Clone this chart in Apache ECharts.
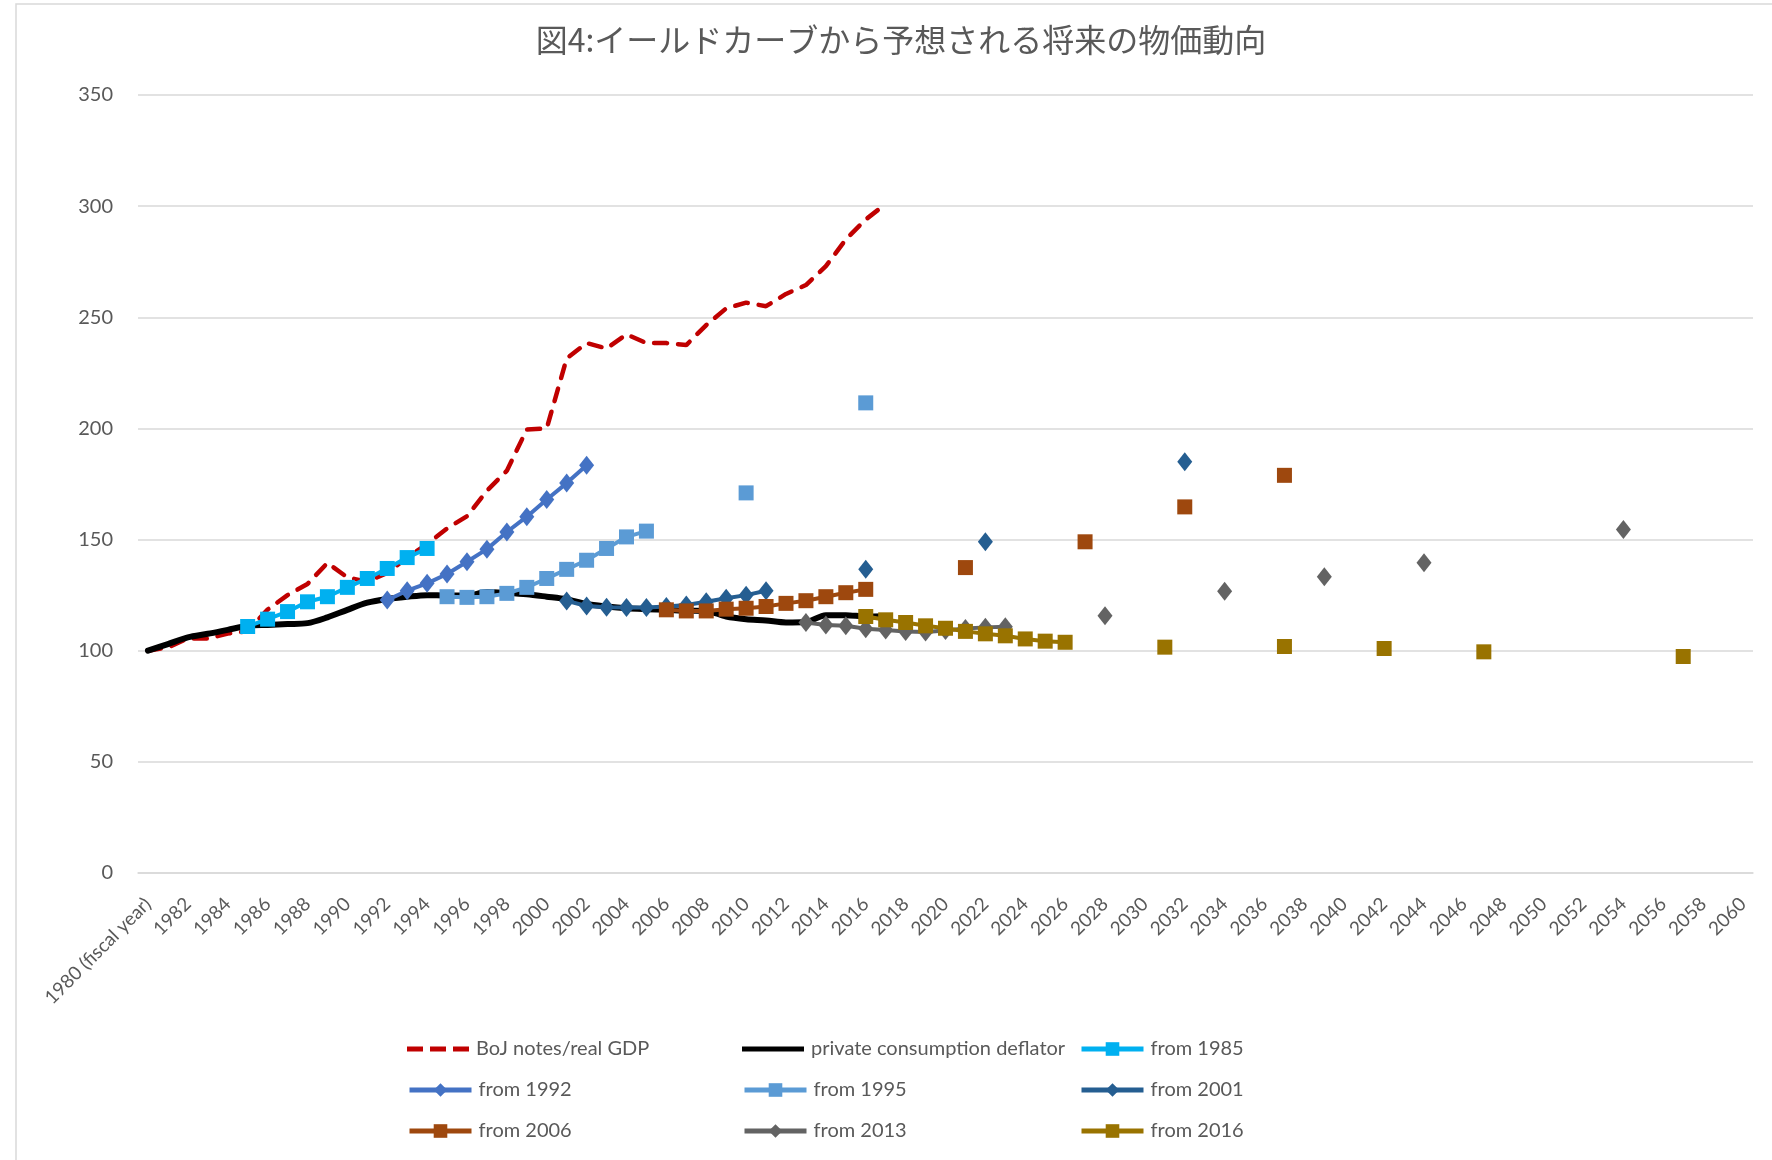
<!DOCTYPE html>
<html>
<head>
<meta charset="utf-8">
<script src="https://cdn.jsdelivr.net/npm/echarts@6/dist/echarts.min.js"></script>
<style>
html,body{margin:0;padding:0;background:#fff;}
#chart{width:1772px;height:1160px;}
</style>
</head>
<body>
<div id="chart"></div>
<script>
// ---- categories / tick labels ----
const firstYear = 1980, lastYear = 2060;
const categories = [];
for (let y = firstYear; y <= lastYear; y++) categories.push(y === firstYear ? '1980 (fiscal year)' : String(y));
const yTicks = [0, 50, 100, 150, 200, 250, 300, 350];

// ---- series values (start year + consecutive values, plus isolated [year, value] points) ----
const bojStart = 1980;
const bojNotesRealGdp = [100, 101.5, 105.5, 105.5, 107.7, 108.8, 118.5, 125, 130, 139.5, 133, 131, 135, 142, 148, 155, 160.5, 172, 181, 199.5, 200, 231.5, 238.4, 236, 242.3, 238.4, 238.4, 237.5, 246.5, 254, 256.6, 255, 260.5, 264.5, 273, 285, 294, 301];
const deflatorStart = 1980;
const privateConsumptionDeflator = [100, 103, 106, 107.6, 109.4, 111.2, 111.6, 112, 112.4, 115, 118.4, 121.6, 123.3, 124.3, 125, 124.8, 124.8, 126.4, 126, 125.4, 124.3, 123.1, 121, 119.9, 119.1, 118.7, 118.4, 118, 117.9, 115.4, 114.2, 113.6, 112.7, 112.9, 116, 116, 115.4, 115.5];
const from1985 = [110.9, 114.2, 117.6, 122, 124.3, 128.5, 132.5, 137, 141.9, 146];
const from1985Extra = [];
const from1992 = [122.8, 127, 130.3, 134.5, 140, 145.7, 153.4, 160.3, 168, 175.4, 183.4];
const from1992Extra = [];
const from1995 = [124.3, 124, 124.3, 125.8, 128.5, 132.5, 136.6, 140.7, 146, 151.2, 153.8];
const from1995Extra = [[2010, 171], [2016, 211.5]];
const from2001 = [122.4, 120.1, 119.6, 119.4, 119.4, 119.9, 120.6, 122, 123.6, 125, 127];
const from2001Extra = [[2016, 136.6], [2022, 149], [2032, 185]];
const from2006 = [118.4, 117.9, 117.9, 118.7, 119.1, 119.9, 121.3, 122.5, 124.3, 126.1, 127.6];
const from2006Extra = [[2021, 137.4], [2027, 149], [2032, 164.7], [2037, 178.9]];
const from2013 = [112.7, 111.6, 111.2, 109.9, 109.3, 108.6, 108.4, 109.1, 110, 110.5, 110.8];
const from2013Extra = [[2028, 115.7], [2034, 126.7], [2039, 133.3], [2044, 139.6], [2054, 154.5]];
const from2016 = [115.4, 113.9, 112.7, 111.2, 110.1, 108.7, 107.6, 106.7, 105.3, 104.3, 103.8];
const from2016Extra = [[2031, 101.6], [2037, 101.9], [2042, 101], [2047, 99.5], [2057, 97.4]];

function place(start, values, extra) {
  const arr = categories.map(() => null);
  values.forEach((v, i) => { arr[start - firstYear + i] = v; });
  (extra || []).forEach(([yr, v]) => { arr[yr - firstYear] = v; });
  return arr;
}

const FONT = 'Lato, "Liberation Sans", sans-serif';
const TXT = '#595959';

function markerSeries(name, color, start, values, extra, symbol) {
  return {
    name, type: 'line',
    data: place(start, values, extra),
    connectNulls: false,
    showSymbol: true, showAllSymbol: true,
    symbol: symbol,
    symbolSize: symbol === 'diamond' ? [15, 19] : 15,
    lineStyle: { color, width: 4 },
    itemStyle: { color, borderWidth: 0 },
    emphasis: { disabled: true },
    animation: false
  };
}

const series = [
  {
    name: 'BoJ notes/real GDP', type: 'line',
    data: place(bojStart, bojNotesRealGdp),
    symbol: 'none',
    lineStyle: { color: '#C00000', width: 4.5, type: [13, 11], cap: 'round' },
    itemStyle: { color: '#C00000' },
    animation: false
  },
  {
    name: 'private consumption deflator', type: 'line',
    data: place(deflatorStart, privateConsumptionDeflator),
    symbol: 'none', smooth: 0.3,
    lineStyle: { color: '#000000', width: 6, cap: 'round' },
    itemStyle: { color: '#000000' },
    animation: false
  },
  markerSeries('from 1985', '#00B0F0', 1985, from1985, from1985Extra, 'rect'),
  markerSeries('from 1992', '#4472C4', 1992, from1992, from1992Extra, 'diamond'),
  markerSeries('from 1995', '#5B9BD5', 1995, from1995, from1995Extra, 'rect'),
  markerSeries('from 2001', '#255E91', 2001, from2001, from2001Extra, 'diamond'),
  markerSeries('from 2006', '#9E480E', 2006, from2006, from2006Extra, 'rect'),
  markerSeries('from 2013', '#636363', 2013, from2013, from2013Extra, 'diamond'),
  markerSeries('from 2016', '#997300', 2016, from2016, from2016Extra, 'rect')
];

// legend grid: 3 columns x 3 rows
const legendLayout = [
  ['BoJ notes/real GDP', 'private consumption deflator', 'from 1985'],
  ['from 1992', 'from 1995', 'from 2001'],
  ['from 2006', 'from 2013', 'from 2016']
];
const legendColX = [407, 742, 1079];
const legendRowY = [1051, 1092, 1133];

const legends = [];
legendLayout.forEach((row, r) => row.forEach((name, c) => {
  let item = { name };
  if (name === 'BoJ notes/real GDP') item.icon = 'path://M0,0h16v5h-16z M23,0h16v5h-16z M46,0h16v5h-16z';
  if (name === 'private consumption deflator') item.icon = 'path://M0,0h62v5h-62z';
  legends.push({
    orient: 'horizontal', left: legendColX[c], top: legendRowY[r] - 12,
    padding: 0,
    itemWidth: 62, itemHeight: 17, itemGap: 0,
    symbolKeepAspect: true,
    lineStyle: { width: 5 },
    textStyle: { fontFamily: FONT, fontSize: 20, color: TXT, padding: [0, 0, 0, 2] },
    selectedMode: false,
    data: [item]
  });
}));

const chart = echarts.init(document.getElementById('chart'), null, { renderer: 'canvas' });
chart.setOption({
  backgroundColor: '#ffffff',
  animation: false,
  title: {
    text: '図4:イールドカーブから予想される将来の物価動向',
    left: 896, top: 19, textAlign: 'center',
    textStyle: { fontFamily: '"Noto Sans CJK JP", sans-serif', fontSize: 32, fontWeight: 'normal', color: TXT }
  },
  graphic: [{
    type: 'rect', silent: true, z: -10,
    shape: { x: 16, y: 4, width: 1800, height: 1200 },
    style: { fill: 'none', stroke: '#d9d9d9', lineWidth: 1.5 }
  }],
  grid: { left: 138, right: 19, top: 95, bottom: 287, containLabel: false, outerBoundsMode: 'none' },
  legend: legends,
  xAxis: {
    type: 'category', data: categories, boundaryGap: true,
    axisLine: { show: true, lineStyle: { color: '#d9d9d9', width: 1.5 } },
    axisTick: { show: false },
    splitLine: { show: false },
    axisLabel: { interval: 1, rotate: 45, margin: 28, fontFamily: FONT, fontSize: 19, color: TXT }
  },
  yAxis: {
    type: 'value', min: yTicks[0], max: yTicks[yTicks.length - 1], interval: 50,
    axisLine: { show: false }, axisTick: { show: false },
    splitLine: { show: true, lineStyle: { color: '#d9d9d9', width: 1.5 } },
    axisLabel: { margin: 25, fontFamily: FONT, fontSize: 20, color: TXT }
  },
  series: series
});
</script>
</body>
</html>
